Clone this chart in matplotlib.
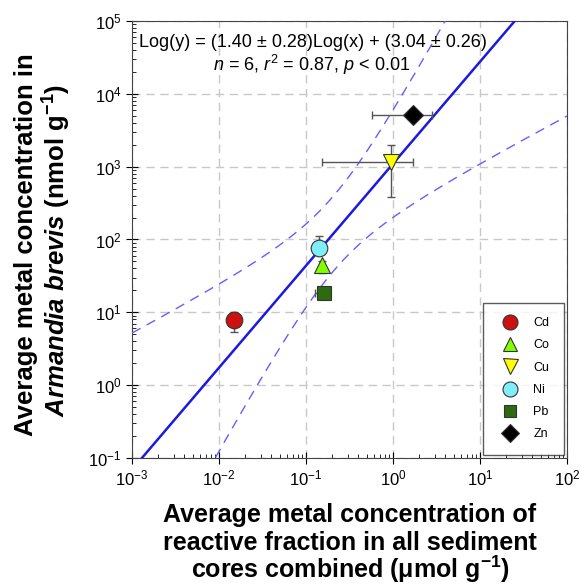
import matplotlib
matplotlib.use("Agg")
import matplotlib.pyplot as plt
import numpy as np

plt.rcParams['font.family'] = ['Liberation Sans', 'DejaVu Sans']
plt.rcParams['mathtext.fontset'] = 'custom'
plt.rcParams['mathtext.rm'] = 'Liberation Sans'
plt.rcParams['mathtext.it'] = 'Liberation Sans:italic'
plt.rcParams['mathtext.bf'] = 'Liberation Sans:bold'
plt.rcParams['mathtext.bfit'] = 'Liberation Sans:italic:bold'

metals = ['Cd', 'Co', 'Cu', 'Ni', 'Pb', 'Zn']
x = [0.0149, 0.153, 0.948, 0.141, 0.161, 1.70]
y = [7.9, 45, 1165, 77, 18.5, 5150]
x_lo = [0.0149, 0.153, 0.153, 0.141, 0.127, 0.574]
x_hi = [0.0149, 0.153, 1.70, 0.141, 0.161, 2.81]
y_lo = [5.4, 35, 385, 65, 18.5, 5150]
y_hi = [10.1, 50, 1995, 110, 18.5, 5150]

markers = ['o', '^', 'v', 'o', 's', 'D']
colors = ['#cc1111', '#80ff00', '#ffff00', '#80eef8', '#2e6b10', '#000000']
msizes = [12, 11, 12, 12, 9.5, 10]

slope = 1.40
intercept = 3.04
se_slope = 0.28

fig = plt.figure(figsize=(5.81, 5.87), dpi=100)
ax = fig.add_axes([0.2272, 0.2198, 0.7487, 0.7445])

# regression line and 95% confidence band
lx = np.log10(x)
n = len(lx)
sxx = np.sum((lx - lx.mean()) ** 2)
s = se_slope * np.sqrt(sxx)
t = 2.776
xx = np.linspace(-3, 2, 300)
fit = intercept + slope * xx
hw = t * s * np.sqrt(1 / n + (xx - lx.mean()) ** 2 / sxx)
ax.plot(10 ** xx, 10 ** fit, color='#1a1ae0', lw=1.8, zorder=3)
ax.plot(10 ** xx, 10 ** (fit + hw), color='#6a5cff', lw=1, ls=(0, (7, 5)), zorder=3)
ax.plot(10 ** xx, 10 ** (fit - hw), color='#6a5cff', lw=1, ls=(0, (7, 5)), zorder=3)

for i in range(n):
    ax.errorbar(x[i], y[i],
                xerr=[[x[i] - x_lo[i]], [x_hi[i] - x[i]]],
                yerr=[[y[i] - y_lo[i]], [y_hi[i] - y[i]]],
                fmt='none', ecolor='#555555', elinewidth=1, capsize=3, zorder=4)
    ax.plot(x[i], y[i], marker=markers[i], color=colors[i], markersize=msizes[i],
            markeredgecolor='#333333', markeredgewidth=0.8, ls='none',
            label=metals[i], zorder=5)

ax.set_xscale('log')
ax.set_yscale('log')
ax.set_xlim(1e-3, 1e2)
ax.set_ylim(1e-1, 1e5)
ax.grid(True, which='major', color='#c8c8c8', ls=(0, (6, 4)), lw=1)
ax.tick_params(which='major', direction='inout', length=8, labelsize=12)
ax.tick_params(which='minor', direction='in', length=3)
for sp in ax.spines.values():
    sp.set_color('#444444')

ax.text(0.416, 0.95, 'Log(y) = (1.40 ± 0.28)Log(x) + (3.04 ± 0.26)',
        transform=ax.transAxes, ha='center', va='center', fontsize=13, zorder=6)
ax.text(0.412, 0.899, '$n$ = 6, $r^2$ = 0.87, $p$ < 0.01',
        transform=ax.transAxes, ha='center', va='center', fontsize=13, zorder=6)

leg = ax.legend(loc='lower right', fontsize=9, frameon=True, fancybox=False,
                edgecolor='#333333', labelspacing=0.82, borderpad=1.15,
                handletextpad=0.9, markerscale=0.9, borderaxespad=0.25)
leg.get_frame().set_linewidth(1)

# y label, two lines
fig.text(26 / 581, 1 - 245 / 587, 'Average metal concentration in',
         rotation=90, ha='center', va='center', fontsize=18.5, fontweight='bold')
fig.text(57 / 581, 1 - 250 / 587,
         r'$\mathbfit{Armandia\ brevis}$ (nmol $\mathbf{g^{-1}}$)',
         rotation=90, ha='center', va='center', fontsize=18.5, fontweight='bold')

# x label, three lines
xl_lines = ['Average metal concentration of',
            'reactive fraction in all sediment',
            r'cores combined ($\mathbf{\mu}$mol $\mathbf{g^{-1}}$)']
for k, line in enumerate(xl_lines):
    fig.text(350 / 581, 1 - (522 + 28 * k) / 587, line, ha='center',
             va='baseline', fontsize=18, fontweight='bold')

fig.savefig('out.png', dpi=100)
